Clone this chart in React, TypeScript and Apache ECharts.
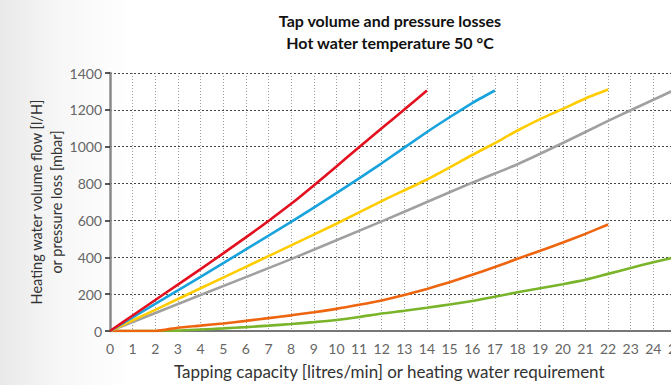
import React, { useEffect, useRef } from "react";
import * as echarts from "echarts";

const redX = [0, 1, 2, 3, 4, 5, 6, 7, 8, 9, 10, 11, 12, 13, 14];
const redY = [0, 84, 168, 252, 336, 421, 508, 597, 690, 790, 893, 997, 1100, 1202, 1305];

const blueX = [0, 4, 8, 10, 12, 14, 15, 16, 17];
const blueY = [0, 294, 592, 748, 910, 1080, 1160, 1237, 1305];

const yellowX = [0, 2, 4, 6, 8, 10, 12, 14, 16, 17, 18, 19, 20, 21, 22];
const yellowY = [0, 115, 232, 348, 465, 582, 705, 822, 955, 1020, 1088, 1150, 1205, 1262, 1310];

const grayX = [0, 4, 8, 12, 14, 16, 18, 20, 22, 24, 25];
const grayY = [0, 195, 390, 595, 700, 805, 905, 1020, 1140, 1255, 1312];

const orangeX = [0, 1, 2, 3, 4, 5, 6, 7, 8, 9, 10, 11, 12, 13, 14, 15, 16, 17, 18, 19, 20, 21, 22];
const orangeY = [0, 0, 0, 18, 29, 41, 55, 70, 85, 102, 120, 142, 166, 195, 228, 265, 305, 347, 392, 435, 480, 527, 578];

const greenX = [0, 1, 2, 3, 4, 5, 6, 7, 8, 9, 10, 11, 12, 13, 14, 15, 16, 17, 18, 19, 20, 21, 22, 23, 24, 25];
const greenY = [0, 0, 0, 2, 8, 14, 21, 29, 38, 48, 60, 76, 95, 110, 126, 144, 163, 186, 210, 232, 254, 278, 310, 342, 373, 402];

const xMax = 26;
const yMax = 1400;

const FONT = "Lato, 'Open Sans', sans-serif";

function pairs(xs: number[], ys: number[]) {
  return xs.map((x, i) => [x, ys[i]]);
}

export default function App() {
  const ref = useRef<HTMLDivElement>(null);
  useEffect(() => {
    document.body.style.margin = "0";
    const chart = echarts.init(ref.current!, null, { renderer: "svg" });
    const mk = (name: string, color: string, xs: number[], ys: number[], z: number) => ({
      name,
      type: "line",
      data: pairs(xs, ys),
      showSymbol: false,
      smooth: 0.2,
      z,
      lineStyle: { color, width: 2.6 },
    });
    chart.setOption({
      animation: false,
      title: {
        text: "Tap volume and pressure losses\nHot water temperature 50 °C",
        left: "center",
        top: 4,
        textStyle: {
          fontFamily: FONT,
          fontSize: 16,
          fontWeight: "bold",
          color: "#111",
          lineHeight: 22,
        },
      },
      graphic: [
        {
          type: "text",
          left: "center",
          top: 363,
          style: {
            text: "Tapping capacity [litres/min] or heating water requirement",
            fontFamily: FONT,
            fontSize: 17,
            fill: "#333",
          },
        },
      ],
      grid: { left: 110, top: 73, height: 258, width: xMax * 22.64 },
      xAxis: {
        type: "value",
        min: 0,
        max: xMax,
        interval: 1,
        axisLine: { lineStyle: { color: "#777", width: 2 } },
        axisTick: { show: false },
        axisLabel: { color: "#666", fontSize: 14, fontFamily: FONT, margin: 10 },
        splitLine: { show: true, lineStyle: { color: "#999", type: [1, 2], width: 1 } },
      },
      yAxis: {
        type: "value",
        min: 0,
        max: yMax,
        interval: 200,
        name: "Heating water volume flow [l/H]\nor pressure loss [mbar]",
        nameLocation: "middle",
        nameGap: 44,
        nameMoveOverlap: false,
        nameRotate: 90,
        nameTextStyle: { color: "#333", fontSize: 14.5, fontFamily: FONT, lineHeight: 20 },
        axisLine: { show: true, lineStyle: { color: "#888", width: 2.5 } },
        axisTick: { show: true, length: 5, lineStyle: { color: "#222", width: 1.5 } },
        axisLabel: {
          color: "#666",
          fontSize: 14,
          fontFamily: FONT,
          margin: 8,
          formatter: (v: number) => String(v),
        },
        splitLine: { show: true, lineStyle: { color: "#444", type: [2, 2], width: 1 } },
      },
      series: [
        mk("green", "#7ab42a", greenX, greenY, 2),
        mk("orange", "#ee6510", orangeX, orangeY, 3),
        mk("gray", "#a0a0a0", grayX, grayY, 4),
        mk("yellow", "#ffcc00", yellowX, yellowY, 5),
        mk("blue", "#18a3dc", blueX, blueY, 6),
        mk("red", "#e3101f", redX, redY, 7),
      ],
    });
    return () => chart.dispose();
  }, []);
  return (
    <div
      style={{
        position: "fixed",
        left: 0,
        top: 0,
        width: 671,
        height: 385,
        overflow: "hidden",
        background: "linear-gradient(to right, #e9e9e9 0px, #f7f7f7 60px, #ffffff 130px)",
      }}
    >
      <div ref={ref} style={{ width: 780, height: 385 }} />
    </div>
  );
}
